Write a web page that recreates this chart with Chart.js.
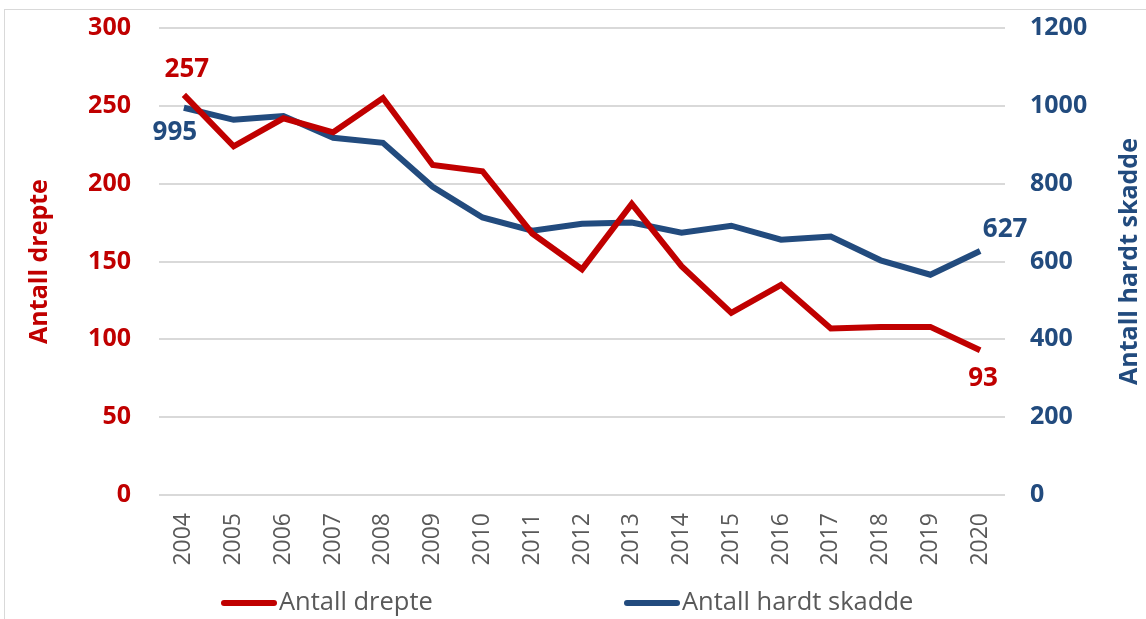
<!DOCTYPE html>
<html>
<head>
<meta charset="utf-8">
<script src="https://cdn.jsdelivr.net/npm/chart.js@4.4.1/dist/chart.umd.min.js"></script>
<style>
  html, body { margin: 0; padding: 0; background: #fff; }
  #wrap { position: relative; width: 1146px; height: 619px; }
</style>
</head>
<body>
<div id="wrap"><canvas id="myChart"></canvas></div>
<script>
// Data
var years = ["2004", "2005", "2006", "2007", "2008", "2009", "2010", "2011", "2012",
             "2013", "2014", "2015", "2016", "2017", "2018", "2019", "2020"];
var drepte = [257, 224, 242, 233, 255, 212, 208, 168, 145, 187, 147, 117, 135, 107, 108, 108, 93];
var hardtSkadde = [995, 964, 974, 918, 905, 792, 713, 679, 697, 700, 674, 692, 656, 664, 603, 566, 627];
var leftTicks = [0, 50, 100, 150, 200, 250, 300];
var rightTicks = [0, 200, 400, 600, 800, 1000, 1200];

var RED = "#C00000";
var BLUE = "#224B7E";
var GREY = "#595959";
var FONT = "'Open Sans', sans-serif";

// End labels, right title, legend and frame
var endLabels = {
  beforeDraw: function (chart) {
    var ctx = chart.ctx;
    ctx.save();
    ctx.strokeStyle = "#d9d9d9";
    ctx.lineWidth = 1;
    ctx.strokeRect(4.5, 9.5, 1200, 700);
    ctx.restore();
  },
  afterDatasetsDraw: function (chart) {
    var ctx = chart.ctx;
    var offsets = [
      [[3, -25], [3, 28]],   // drepte: first, last
      [[-9, 25], [25, -21]]  // hardt skadde
    ];
    ctx.save();
    ctx.font = "bold 26px " + FONT;
    ctx.textAlign = "center";
    ctx.textBaseline = "middle";
    chart.data.datasets.forEach(function (ds, i) {
      var pts = chart.getDatasetMeta(i).data;
      ctx.fillStyle = ds.borderColor;
      [0, pts.length - 1].forEach(function (idx, k) {
        ctx.fillText(String(ds.data[idx]), pts[idx].x + offsets[i][k][0], pts[idx].y + offsets[i][k][1]);
      });
    });

    // right axis title, reading bottom to top
    var y1 = chart.scales.y1;
    ctx.translate(1130, (y1.top + y1.bottom) / 2);
    ctx.rotate(-Math.PI / 2);
    ctx.font = "bold 25px " + FONT;
    ctx.fillStyle = BLUE;
    ctx.fillText("Antall hardt skadde", 0, 0);
    ctx.restore();

    // legend
    ctx.save();
    var ly = 603;
    var starts = [221, 624];
    ctx.font = "25.5px " + FONT;
    ctx.textAlign = "left";
    ctx.textBaseline = "middle";
    chart.data.datasets.forEach(function (ds, i) {
      ctx.strokeStyle = ds.borderColor;
      ctx.lineWidth = 6;
      ctx.lineCap = "round";
      ctx.beginPath();
      ctx.moveTo(starts[i] + 3, ly);
      ctx.lineTo(starts[i] + 53, ly);
      ctx.stroke();
      ctx.fillStyle = GREY;
      ctx.fillText(ds.label, starts[i] + 58, ly);
    });
    ctx.restore();
  }
};

var ctx = document.getElementById("myChart").getContext("2d");

var myChart = new Chart(ctx, {
  type: "line",
  data: {
    labels: years,
    datasets: [
      {
        label: "Antall drepte",
        data: drepte,
        borderColor: RED,
        backgroundColor: RED,
        borderWidth: 6,
        pointRadius: 0,
        tension: 0,
        yAxisID: "y"
      },
      {
        label: "Antall hardt skadde",
        data: hardtSkadde,
        borderColor: BLUE,
        backgroundColor: BLUE,
        borderWidth: 6,
        pointRadius: 0,
        tension: 0,
        yAxisID: "y1"
      }
    ]
  },
  options: {
    responsive: true,
    maintainAspectRatio: false,
    animation: false,
    layout: { padding: { top: 28, bottom: 44, left: 0, right: 0 } },
    plugins: {
      legend: { display: false },
      tooltip: { enabled: false }
    },
    scales: {
      x: {
        offset: true,
        grid: { display: false },
        border: { display: false },
        ticks: {
          color: GREY,
          font: { family: FONT, size: 23 },
          minRotation: 90,
          maxRotation: 90,
          padding: 10
        },
        afterFit: function (scale) {
          scale.height = 80;
          scale.paddingTop = 0;
          scale.paddingBottom = 0;
        }
      },
      y: {
        position: "left",
        min: 0,
        max: 300,
        afterBuildTicks: function (scale) {
          scale.ticks = leftTicks.map(function (v) { return { value: v }; });
        },
        grid: { color: "#d9d9d9", lineWidth: 2, drawTicks: false },
        border: { display: false },
        ticks: {
          color: RED,
          font: { family: FONT, size: 25, weight: "bold" },
          padding: 28,
          callback: function (v) { return String(v); }
        },
        title: {
          display: true,
          text: "Antall drepte",
          color: RED,
          font: { family: FONT, size: 25, weight: "bold" },
          padding: { top: 25, bottom: 0 }
        },
        afterFit: function (scale) {
          scale.width = 159;
          scale.paddingTop = 0;
          scale.paddingBottom = 0;
        }
      },
      y1: {
        position: "right",
        min: 0,
        max: 1200,
        afterBuildTicks: function (scale) {
          scale.ticks = rightTicks.map(function (v) { return { value: v }; });
        },
        grid: { display: false, drawTicks: false },
        border: { display: false },
        ticks: {
          color: BLUE,
          font: { family: FONT, size: 25, weight: "bold" },
          padding: 25,
          callback: function (v) { return String(v); }
        },
        afterFit: function (scale) {
          scale.width = 141;
          scale.paddingTop = 0;
          scale.paddingBottom = 0;
        }
      }
    }
  },
  plugins: [endLabels]
});
</script>
</body>
</html>
